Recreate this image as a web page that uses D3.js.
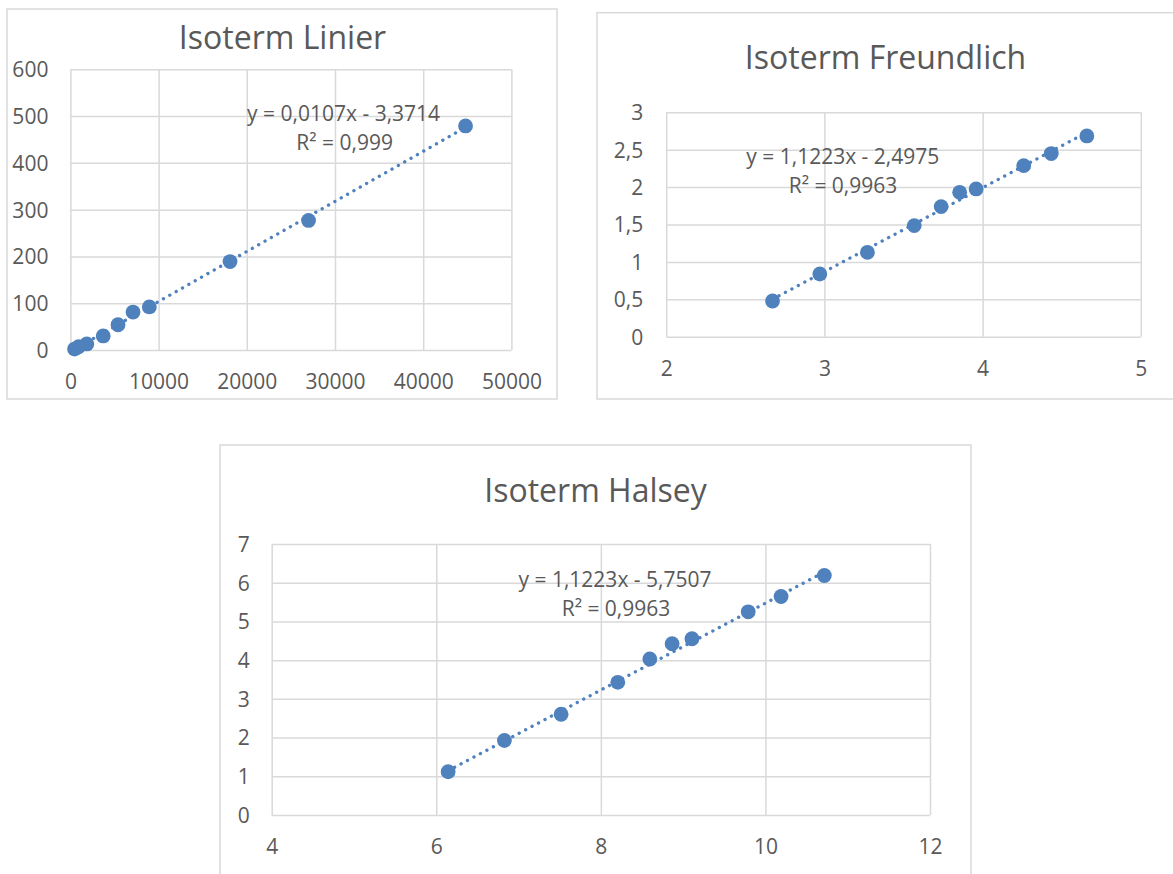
<!DOCTYPE html>
<html>
<head>
<meta charset="utf-8">
<script src="https://cdn.jsdelivr.net/npm/d3@7"></script>
<style>
  html, body { margin: 0; padding: 0; background: #fff; }
  svg { display: block; }
</style>
</head>
<body>
<svg id="chart" width="1173" height="874"></svg>
<script>
// ---------- DATA ----------
const linierTitle = "Isoterm Linier";
const linierX = [470, 930, 1860, 3720, 5400, 7100, 8950, 18100, 27000, 44800];
const linierY = [2, 7, 13, 30, 54, 81, 92, 189, 277, 479];
const linierXTicks = [0, 10000, 20000, 30000, 40000, 50000];
const linierYTicks = [0, 100, 200, 300, 400, 500, 600];
const linierTrend = [0.0107, -3.3714];
const linierEq = "y = 0,0107x - 3,3714";
const linierR2 = "R² = 0,999";

const freundlichTitle = "Isoterm Freundlich";
const freundlichX = [2.672, 2.971, 3.272, 3.568, 3.738, 3.855, 3.959, 4.260, 4.434, 4.659];
const freundlichY = [0.477, 0.838, 1.128, 1.485, 1.739, 1.930, 1.975, 2.287, 2.448, 2.684];
const freundlichXTicks = [2, 3, 4, 5];
const freundlichYTicks = [0, 0.5, 1, 1.5, 2, 2.5, 3];
const freundlichTrend = [1.1223, -2.4975];
const freundlichEq = "y = 1,1223x - 2,4975";
const freundlichR2 = "R² = 0,9963";

const halseyTitle = "Isoterm Halsey";
const halseyX = [6.144, 6.828, 7.517, 8.206, 8.595, 8.866, 9.107, 9.791, 10.19, 10.716];
const halseyY = [1.117, 1.924, 2.603, 3.428, 4.029, 4.424, 4.553, 5.249, 5.644, 6.186];
const halseyXTicks = [4, 6, 8, 10, 12];
const halseyYTicks = [0, 1, 2, 3, 4, 5, 6, 7];
const halseyTrend = [1.1223, -5.7507];
const halseyEq = "y = 1,1223x - 5,7507";
const halseyR2 = "R² = 0,9963";

// ---------- STYLE ----------
const FONT = "'Open Sans', sans-serif";
const TEXT = "#595959";
const GRID = "#d9d9d9";
const BLUE = "#4F81BD";

const svg = d3.select("#chart");
svg.append("rect").attr("width", 1173).attr("height", 874).attr("fill", "#fff");

const fmt = d => String(d).replace(".", ",");

function drawChart(cfg) {
  const g = svg.append("g");
  // outer frame
  g.append("rect")
    .attr("x", cfg.frame[0]).attr("y", cfg.frame[1])
    .attr("width", cfg.frame[2] - cfg.frame[0]).attr("height", cfg.frame[3] - cfg.frame[1])
    .attr("fill", "#fff").attr("stroke", GRID).attr("stroke-width", 1.5);

  const x = d3.scaleLinear().domain(cfg.xDomain).range([cfg.plot[0], cfg.plot[2]]);
  const y = d3.scaleLinear().domain(cfg.yDomain).range([cfg.plot[3], cfg.plot[1]]);

  // gridlines via axes
  const gx = g.append("g").attr("transform", `translate(0,${cfg.plot[3]})`)
    .call(d3.axisBottom(x).tickValues(cfg.xTicks).tickSize(-(cfg.plot[3] - cfg.plot[1])).tickFormat(fmt).tickPadding(0));
  const gy = g.append("g").attr("transform", `translate(${cfg.plot[0]},0)`)
    .call(d3.axisLeft(y).tickValues(cfg.yTicks).tickSize(-(cfg.plot[2] - cfg.plot[0])).tickFormat(fmt).tickPadding(0));
  [gx, gy].forEach(a => {
    a.select(".domain").remove();
    a.selectAll(".tick line").attr("stroke", GRID).attr("stroke-width", 1.5);
    a.selectAll(".tick text").attr("fill", TEXT).style("font-family", FONT).style("font-size", "21px");
  });
  gx.selectAll(".tick text").attr("y", cfg.xLabelOffset).attr("dy", "0.35em");
  gy.selectAll(".tick text").attr("x", -cfg.yLabelOffset).attr("dy", "0.35em");

  // title
  g.append("text").attr("x", cfg.titlePos[0]).attr("y", cfg.titlePos[1])
    .attr("text-anchor", "middle").attr("fill", TEXT)
    .style("font-family", FONT).style("font-size", "32px").text(cfg.title);

  // trendline (dotted)
  const xs = d3.extent(cfg.xData);
  const tr = xs.map(v => [v, cfg.trend[0] * v + cfg.trend[1]]);
  g.append("path")
    .attr("d", d3.line().x(d => x(d[0])).y(d => y(d[1]))(tr))
    .attr("fill", "none").attr("stroke", BLUE).attr("stroke-width", 3.3)
    .attr("stroke-linecap", "round").attr("stroke-dasharray", "0.1 7.2");

  // points
  g.append("g").selectAll("circle").data(cfg.xData.map((v, i) => [v, cfg.yData[i]]))
    .join("circle")
    .attr("cx", d => x(d[0])).attr("cy", d => y(d[1])).attr("r", 7.4)
    .attr("fill", BLUE);

  // equation labels
  g.append("text").attr("x", cfg.eqPos[0]).attr("y", cfg.eqPos[1]).attr("dy", "0.35em")
    .attr("text-anchor", "middle").attr("fill", TEXT)
    .style("font-family", FONT).style("font-size", "21px").text(cfg.eq);
  g.append("text").attr("x", cfg.r2Pos[0]).attr("y", cfg.r2Pos[1]).attr("dy", "0.35em")
    .attr("text-anchor", "middle").attr("fill", TEXT)
    .style("font-family", FONT).style("font-size", "21px").text(cfg.r2);
}

drawChart({
  frame: [7, 9, 557, 399],
  plot: [70.4, 69.3, 511.4, 350],
  xDomain: [0, 50000], yDomain: [0, 600],
  xTicks: linierXTicks, yTicks: linierYTicks,
  xData: linierX, yData: linierY, trend: linierTrend,
  title: linierTitle, titlePos: [282.5, 49.3],
  eq: linierEq, eqPos: [343.6, 113.3], r2: linierR2, r2Pos: [344.6, 142.7],
  xLabelOffset: 32, yLabelOffset: 22
});

drawChart({
  frame: [597, 12.7, 1180, 399],
  plot: [666.2, 112.3, 1140.8, 336.7],
  xDomain: [2, 5], yDomain: [0, 3],
  xTicks: freundlichXTicks, yTicks: freundlichYTicks,
  xData: freundlichX, yData: freundlichY, trend: freundlichTrend,
  title: freundlichTitle, titlePos: [885.5, 69],
  eq: freundlichEq, eqPos: [842.8, 156.7], r2: freundlichR2, r2Pos: [843, 185.7],
  xLabelOffset: 31.5, yLabelOffset: 23
});

drawChart({
  frame: [220, 445, 971, 890],
  plot: [271.7, 544, 930, 815],
  xDomain: [4, 12], yDomain: [0, 7],
  xTicks: halseyXTicks, yTicks: halseyYTicks,
  xData: halseyX, yData: halseyY, trend: halseyTrend,
  title: halseyTitle, titlePos: [595.5, 501.7],
  eq: halseyEq, eqPos: [615, 580], r2: halseyR2, r2Pos: [616, 609],
  xLabelOffset: 32, yLabelOffset: 22
});
</script>
</body>
</html>
